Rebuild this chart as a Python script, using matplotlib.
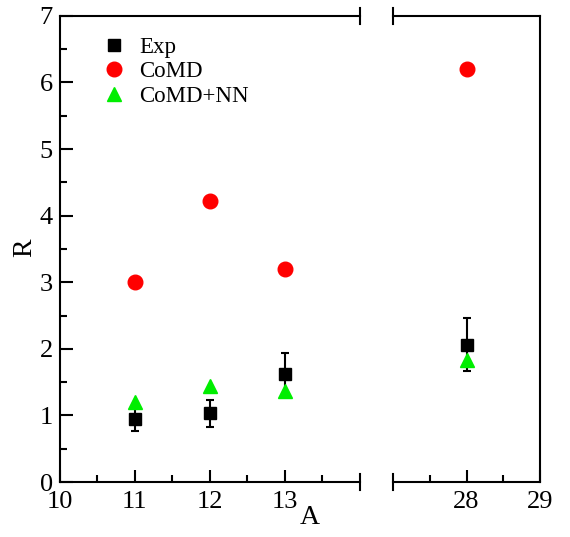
import numpy as np
import matplotlib
matplotlib.use('Agg')
import matplotlib.pyplot as plt
from matplotlib.lines import Line2D

plt.rcParams['font.family'] = 'Liberation Serif'

# Data
A = [11, 12, 13, 28]
exp_r = [0.95, 1.03, 1.62, 2.06]
exp_err = [0.18, 0.20, 0.32, 0.40]
comd_r = [3.00, 4.22, 3.20, 6.20]
comdnn_r = [1.20, 1.44, 1.37, 1.83]

fig = plt.figure(figsize=(5.70, 5.37), dpi=100)
ax1 = fig.add_axes([0.105, 0.1024, 0.526, 0.868])
ax2 = fig.add_axes([0.689, 0.1024, 0.259, 0.868], sharey=ax1)

for ax in (ax1, ax2):
    ax.errorbar(A, exp_r, yerr=exp_err, fmt='s', color='black', ms=9,
                ecolor='black', elinewidth=1.5, capsize=3, capthick=1.5,
                zorder=3)
    ax.plot(A, comd_r, 'o', color='#ff0000', ms=10.5, zorder=3)
    ax.plot(A, comdnn_r, '^', color='#00ee00', ms=10.5, zorder=4)
    for s in ax.spines.values():
        s.set_linewidth(1.5)
    ax.tick_params(which='both', direction='in', width=1.5, labelsize=19)
    ax.tick_params(which='major', length=9)
    ax.tick_params(which='minor', length=5)
    ax.tick_params(axis='x', pad=6.5)
    ax.tick_params(axis='y', pad=5)

ax1.set_xlim(10, 14)
ax2.set_xlim(27, 29)
ax1.set_ylim(0, 7)
ax1.set_xticks([10, 11, 12, 13])
ax1.set_xticks([10.5, 11.5, 12.5, 13.5], minor=True)
ax2.set_xticks([28, 29])
ax2.set_xticks([27.5, 28.5], minor=True)
ax1.set_yticks(range(8))
ax1.set_yticks(np.arange(0.5, 7, 1), minor=True)

ax1.spines['right'].set_visible(False)
ax2.spines['left'].set_visible(False)
ax2.tick_params(axis='y', which='both', left=False, labelleft=False)

# break marks
d = 0.017
for ax, xpos in ((ax1, 1), (ax2, 0)):
    for ypos in (0, 1):
        ax.plot([xpos, xpos], [ypos - d, ypos + d], transform=ax.transAxes,
                color='black', lw=1.5, clip_on=False)

fig.text(0.043, 0.538, 'R', fontsize=20, ha='center', va='center', rotation=90)
fig.text(0.544, 0.024, 'A', fontsize=20, ha='center', va='baseline')

handles = [Line2D([], [], ls='none', marker='s', color='black', ms=8),
           Line2D([], [], ls='none', marker='o', color='#ff0000', ms=10.5),
           Line2D([], [], ls='none', marker='^', color='#00ee00', ms=10.5)]
ax1.legend(handles, ['Exp', 'CoMD', 'CoMD+NN'], loc='upper left',
           bbox_to_anchor=(0.08, 0.995), frameon=False,
           fontsize=16.5, handlelength=1.0, handletextpad=0.6, labelspacing=0.15,
           borderpad=0.3)

fig.savefig('out.png', dpi=100)
